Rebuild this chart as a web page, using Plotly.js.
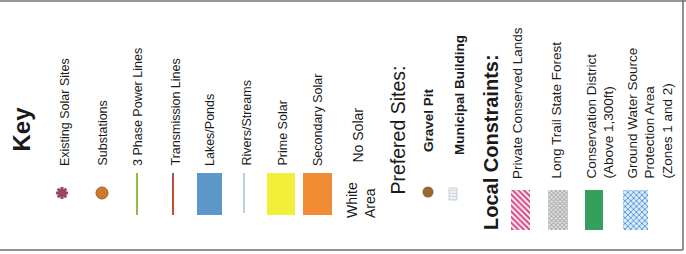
<!DOCTYPE html>
<html>
<head>
<meta charset="utf-8">
<script src="https://cdn.plot.ly/plotly-3.0.1.min.js"></script>
<style>html,body{margin:0;padding:0;background:#fff;}#chart{width:686px;height:254px;}</style>
</head>
<body>
<div id="chart"></div>
<script>
// ---- legend content (data) ----
const titleKey = "Key";
const keyLabels = ["Existing Solar Sites", "Substations", "3 Phase Power Lines", "Transmission Lines",
  "Lakes/Ponds", "Rivers/Streams", "Prime Solar", "Secondary Solar"];
const noSolarLabels = ["No Solar", "White<br>Area"];
const preferredTitle = "Prefered Sites:";
const preferredLabels = ["Gravel Pit", "Municipal Building"];
const localTitle = "Local Constraints:";
const localLabels = ["Private Conserved Lands", "Long Trail State Forest",
  "Conservation District<br>(Above 1,300ft)", "Ground Water Source<br>Protection Area<br>(Zones 1 and 2)"];

// symbol colours
const pointColors = {existing: "#9a4466", substation: "#cc7a30", gravel: "#9a6632"};
const lineColors = {phase3: "#8dc043", transmission: "#c0502c", rivers: "#a9bde6"};
const fillColors = {lakes: "#5b97c9", prime: "#f2ef3b", secondary: "#f08b33", conservation: "#35a05c"};

// ---- layout positions (pixel space) ----
const keyLabelX = [65, 102, 138, 175, 210, 246, 282, 318];
const keyLabelBottom = 167;
const localLabelX = [517, 556, 600, 649];
const localLabelBottom = 180;

const FONT = "Liberation Sans, Arial, sans-serif";
const traces = [];

// point symbols
traces.push({type: "scatter", mode: "markers", x: [62], y: [193], hoverinfo: "skip",
  marker: {symbol: "asterisk-open", size: 10, color: pointColors.existing,
    line: {color: pointColors.existing, width: 3}}});
traces.push({type: "scatter", mode: "markers", x: [62], y: [193], hoverinfo: "skip",
  marker: {symbol: "circle", size: 6, color: pointColors.existing, line: {width: 0}}});
traces.push({type: "scatter", mode: "markers", x: [102], y: [193], hoverinfo: "skip",
  marker: {symbol: "circle", size: 12, color: pointColors.substation, line: {color: "#a85e22", width: 1}}});
traces.push({type: "scatter", mode: "markers", x: [428], y: [192], hoverinfo: "skip",
  marker: {symbol: "circle", size: 11, color: pointColors.gravel, line: {width: 0}}});

// line symbols
traces.push({type: "scatter", mode: "lines", x: [137, 137], y: [173, 215], hoverinfo: "skip",
  line: {color: lineColors.phase3, width: 2}});
traces.push({type: "scatter", mode: "lines", x: [173, 173], y: [173, 215], hoverinfo: "skip",
  line: {color: lineColors.transmission, width: 2}});
traces.push({type: "scatter", mode: "lines", x: [173, 173], y: [173, 178], hoverinfo: "skip",
  line: {color: "#8a5a7a", width: 2}});
traces.push({type: "scatter", mode: "lines", x: [244, 244], y: [173, 213], hoverinfo: "skip",
  line: {color: lineColors.rivers, width: 1.5}});

// solid swatches (bars)
traces.push({type: "bar", x: [209.5, 281, 317.5], y: [42, 42, 42], base: [173, 173, 173],
  width: [25, 28, 29], hoverinfo: "skip",
  marker: {color: [fillColors.lakes, fillColors.prime, fillColors.secondary], line: {width: 0}}});
traces.push({type: "bar", x: [594], y: [40], base: [190], width: [18], hoverinfo: "skip",
  marker: {color: fillColors.conservation, line: {width: 0}}});
// hatched swatches
traces.push({type: "bar", x: [520.5], y: [40], base: [190], width: [19], hoverinfo: "skip",
  marker: {color: "#ffffff", line: {width: 0},
    pattern: {shape: "\\", fgcolor: "#d23a7e", bgcolor: "#fbe6ef", size: 4, solidity: 0.45}}});
traces.push({type: "bar", x: [558], y: [40], base: [190], width: [20], hoverinfo: "skip",
  marker: {color: "#ffffff", line: {width: 0},
    pattern: {shape: "x", fgcolor: "#a8a8a8", bgcolor: "#e4e4e4", size: 3, solidity: 0.5}}});
traces.push({type: "bar", x: [635.5], y: [40], base: [190], width: [25], hoverinfo: "skip",
  marker: {color: "#ffffff", line: {width: 0},
    pattern: {shape: "x", fgcolor: "#4f94d8", bgcolor: "#dcebf8", size: 4, solidity: 0.4}}});
// municipal building icon
traces.push({type: "bar", x: [453], y: [12], base: [188], width: [8], hoverinfo: "skip",
  marker: {color: "#ffffff", line: {color: "#c8d0da", width: 1},
    pattern: {shape: "-", fgcolor: "#cdd5df", bgcolor: "#eef1f5", size: 3, solidity: 0.3}}});

// ---- annotations ----
const ann = [];
function rot(text, x, bottom, size, bold, extra) {
  ann.push(Object.assign({text: bold ? "<b>" + text + "</b>" : text, x: x, y: bottom,
    xref: "x", yref: "y", textangle: -90, xanchor: "center", yanchor: "bottom",
    showarrow: false, align: "left", borderpad: 0,
    font: {family: FONT, size: size, color: "#1a1a1a"}}, extra || {}));
}
rot(titleKey, 21, 153, 24, true);
keyLabels.forEach((t, i) => rot(t, keyLabelX[i], keyLabelBottom, 12.5, false));
rot(noSolarLabels[0], 357, 164, 14, false);
rot(noSolarLabels[1], 361, 219, 14, false);
rot(preferredTitle, 397, 196, 19.5, false);
rot(preferredLabels[0], 428, 153, 13.5, true);
rot(preferredLabels[1], 459, 156, 13.5, true);
rot(localTitle, 491, 231, 20, true);
localLabels.forEach((t, i) => rot(t, localLabelX[i], localLabelBottom, 13.5, false));

const layout = {
  width: 686, height: 254,
  margin: {l: 0, r: 0, t: 0, b: 0},
  paper_bgcolor: "#ffffff", plot_bgcolor: "#ffffff",
  showlegend: false, barmode: "overlay", bargap: 0,
  xaxis: {range: [0, 686], visible: false, fixedrange: true},
  yaxis: {range: [254, 0], visible: false, fixedrange: true},
  annotations: ann,
  shapes: [
    {type: "line", xref: "x", yref: "y", x0: 0, x1: 686, y0: 1, y1: 1, line: {color: "#9a9a9a", width: 2}},
    {type: "line", xref: "x", yref: "y", x0: 0, x1: 683, y0: 250, y1: 250, line: {color: "#6e6e6e", width: 1.5}},
    {type: "line", xref: "x", yref: "y", x0: 683, x1: 683, y0: 0, y1: 250, line: {color: "#6e6e6e", width: 1.5}}
  ]
};
Plotly.newPlot("chart", traces, layout, {staticPlot: true, displayModeBar: false});
</script>
</body>
</html>
